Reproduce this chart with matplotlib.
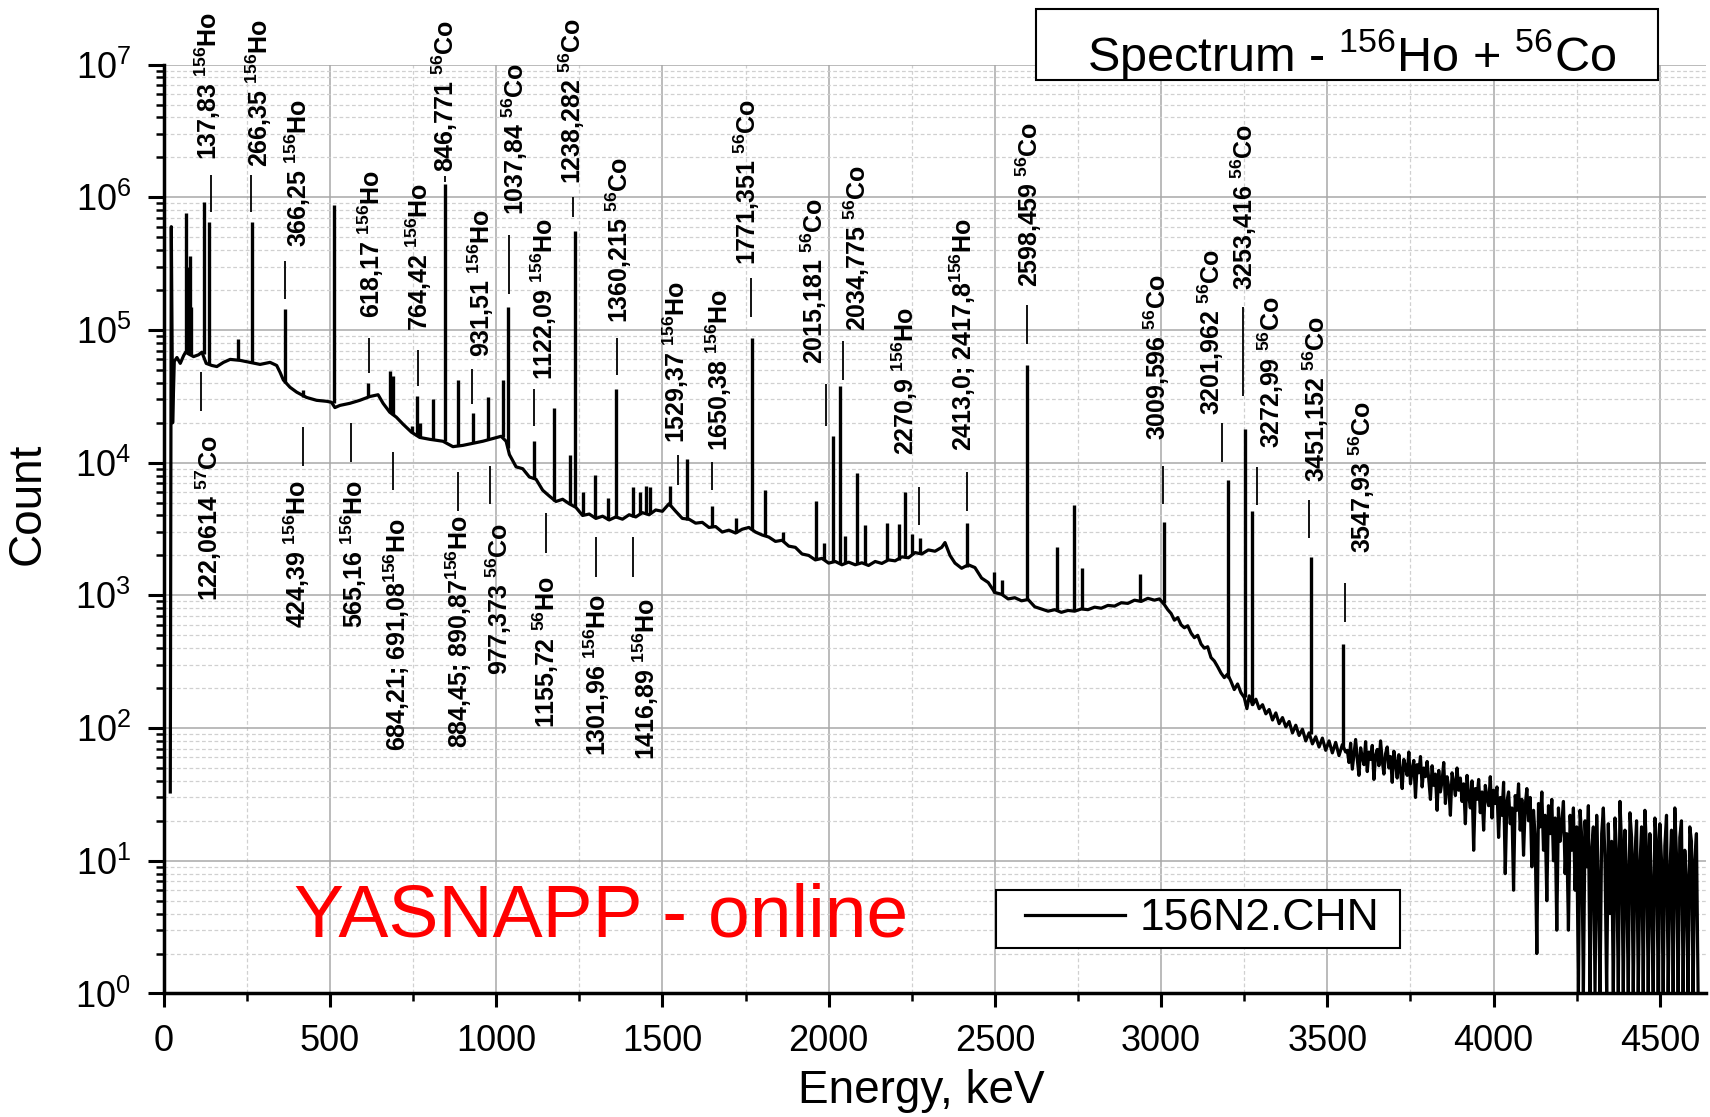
import numpy as np
import matplotlib.pyplot as plt
from matplotlib import ticker, transforms
from matplotlib.patches import Rectangle

plt.rcParams['font.family'] = ['Liberation Sans', 'DejaVu Sans']
plt.rcParams['mathtext.fontset'] = 'custom'
plt.rcParams['mathtext.rm'] = 'Liberation Sans'
plt.rcParams['mathtext.bf'] = 'Liberation Sans:bold'
plt.rcParams['mathtext.it'] = 'Liberation Sans:italic'

# continuum of the spectrum (keV, counts)
cont_e = [20, 23, 27, 32, 40, 50, 60, 66, 75, 90, 105, 115, 128, 145, 160, 180,
          200, 230, 260, 290, 320, 340, 350, 360, 380, 400, 430, 460, 490, 505,
          515, 530, 560, 590, 620, 645, 660, 680, 700, 720, 745, 770, 800, 840,
          870, 900, 930, 960, 990, 1015, 1030,
          1040, 1060, 1080, 1100, 1120, 1140, 1160, 1180, 1200, 1220, 1240, 1260,
          1280, 1300, 1320, 1340, 1360, 1380, 1400, 1420, 1440, 1460, 1480, 1500,
          1520, 1540, 1560, 1580, 1600, 1620, 1640, 1660, 1680, 1700, 1720, 1740,
          1760, 1780, 1800, 1820, 1840, 1860, 1880, 1900, 1920, 1940, 1960, 1980,
          2000, 2020, 2040, 2060, 2080, 2100, 2120, 2140, 2160, 2180, 2200, 2220,
          2240, 2260, 2280, 2300, 2320, 2340, 2350, 2365, 2380, 2400, 2420, 2440,
          2460, 2480, 2500, 2520, 2540, 2560, 2580, 2600, 2620, 2640, 2660, 2680,
          2700, 2720, 2740, 2760, 2780, 2800, 2820, 2840, 2860, 2880, 2900, 2920,
          2940, 2960, 2980, 2995,
          3010, 3020, 3030, 3040, 3050, 3060, 3070, 3080, 3090, 3100,
          3110, 3120, 3130, 3140, 3150, 3160, 3170, 3180, 3190, 3200, 3210, 3220,
          3230, 3240, 3250, 3258, 3265, 3275, 3285, 3295, 3305, 3315, 3325, 3335,
          3345, 3355, 3365, 3375, 3385, 3395, 3405, 3415, 3425, 3435, 3445, 3455,
          3465, 3475, 3485, 3495, 3505, 3515, 3525, 3535, 3545, 3555]
cont_c = [33, 6.0e5, 2.0e4, 5.8e4, 6.2e4, 5.6e4, 6.4e4, 6.8e4, 6.6e4, 6.3e4, 6.5e4,
          6.8e4, 5.6e4, 5.4e4, 5.3e4, 5.7e4, 6.0e4, 5.9e4, 5.7e4, 5.5e4, 5.7e4,
          5.4e4, 4.8e4, 4.2e4, 3.7e4, 3.4e4, 3.1e4, 2.95e4, 2.9e4, 2.85e4, 2.6e4,
          2.7e4, 2.8e4, 2.95e4, 3.15e4, 3.25e4, 2.8e4, 2.4e4, 2.2e4, 1.95e4, 1.7e4,
          1.55e4, 1.5e4, 1.45e4, 1.32e4, 1.35e4, 1.4e4, 1.45e4, 1.52e4, 1.58e4,
          1.45e4,
          1.15e4, 9.3e3, 9.0e3, 7.8e3, 7.5e3, 6.2e3, 5.6e3, 5.1e3, 5.3e3, 4.9e3,
          4.6e3, 4.0e3, 4.1e3, 3.8e3, 3.95e3, 3.7e3, 3.9e3, 3.75e3, 4.05e3, 3.9e3,
          4.2e3, 4.05e3, 4.4e3, 4.3e3, 4.9e3, 4.3e3, 3.8e3, 3.75e3, 3.5e3, 3.55e3,
          3.25e3, 3.3e3, 3.0e3, 3.1e3, 2.95e3, 3.15e3, 3.25e3, 3.0e3, 2.85e3,
          2.75e3, 2.55e3, 2.6e3, 2.35e3, 2.3e3, 2.05e3, 2.0e3, 1.85e3, 1.9e3,
          1.75e3, 1.8e3, 1.7e3, 1.78e3, 1.7e3, 1.76e3, 1.68e3, 1.8e3, 1.74e3,
          1.85e3, 1.82e3, 1.95e3, 1.92e3, 2.1e3, 2.05e3, 2.2e3, 2.15e3, 2.3e3,
          2.5e3, 2.0e3, 1.75e3, 1.6e3, 1.7e3, 1.62e3, 1.35e3, 1.25e3, 1.05e3,
          1.02e3, 940, 960, 910, 930, 820, 790, 760, 780, 745, 770, 760, 790, 780,
          815, 800, 840, 830, 880, 870, 920, 900, 950, 920, 940,
          850, 780, 730, 650, 680, 600,
          570, 590, 520, 480, 500, 430, 400, 410, 340, 320, 290, 260, 240, 255, 225,
          195, 215, 185, 170, 140, 175, 150, 165, 140, 150, 128, 138, 115, 130, 108,
          120, 102, 112, 92, 105, 88, 98, 80, 92, 76, 86, 72, 84, 68, 80, 65, 78, 62,
          75, 66]

# noisy high-energy tail, one value every 5 keV from 3560 keV
tail_start = 3560
tail_step = 5
tail_c = [68, 55, 77, 49, 63, 82, 58, 44, 71, 60, 53, 79, 47, 66, 58, 74, 41, 62,
          69, 52, 80, 57, 45, 64, 72, 50, 61, 39, 67,
          55, 42, 63, 48, 35, 58, 51, 44, 66, 38, 49, 57, 30, 53, 46, 61, 36, 50,
          43, 56,
          41, 29, 52, 37, 45, 24, 48, 33, 40, 55, 27, 43, 36, 22, 46, 39, 31, 50,
          34, 42,
          28, 38, 19, 44, 31, 25, 40, 12, 35, 29, 41, 23, 33, 17, 37, 30, 26, 43,
          21, 34,
          27, 36, 15, 30, 22, 39, 8, 28, 33, 19, 25, 6, 31, 24, 38, 17, 29, 11, 26,
          35,
          20, 30, 9, 24, 15, 2, 27, 18, 33, 12, 22, 5, 26, 16, 29, 10, 21, 3, 25, 14,
          19, 28, 8, 16, 3, 22, 12, 25, 6, 18, 1, 24,
          15, 1, 20, 9, 26, 1, 12, 18, 1, 22, 7, 1, 16, 25, 10, 1, 19, 4, 14, 1,
          21, 11, 1, 28, 13, 1, 17, 8, 1, 23, 15, 1, 11, 20, 1, 9, 18, 1, 24, 12,
          1, 16, 6, 1, 21, 14, 1, 19, 10, 1, 13, 22, 1, 8, 17, 1, 25, 11, 1, 15,
          20, 1, 12, 7, 1, 18, 14, 1, 10, 16, 1]

# photopeaks: energy, top and continuum level under the peak
peak_e = [67, 72, 78, 81, 120, 137, 225, 266, 366, 420, 511, 616, 682, 690, 746,
          762, 772, 810, 846, 884, 930, 975, 1020, 1037, 1115, 1175, 1222, 1238,
          1262, 1297, 1337, 1360, 1412, 1432, 1452, 1462, 1523, 1573, 1648, 1722,
          1771, 1810, 1862, 1963, 1985, 2013, 2034, 2049, 2085, 2110, 2177, 2212,
          2231, 2252, 2276, 2417, 2496, 2521, 2598, 2688, 2739, 2761, 2937, 3009,
          3202, 3253, 3272, 3451, 3548]
peak_top = [7.6e5, 3.0e5, 3.6e5, 1.5e5, 9.2e5, 6.5e5, 8.5e4, 6.5e5, 1.43e5, 3.5e4,
            8.8e5, 4.0e4, 4.9e4, 4.5e4, 1.9e4, 3.2e4, 2.0e4, 3.0e4, 1.26e6, 4.2e4,
            2.35e4, 3.1e4, 4.2e4, 1.5e5, 1.45e4, 2.6e4, 1.15e4, 5.6e5, 6.0e3, 8.1e3,
            5.4e3, 3.6e4, 6.5e3, 6.0e3, 6.7e3, 6.5e3, 6.7e3, 1.07e4, 4.7e3, 3.8e3,
            8.7e4, 6.2e3, 3.0e3, 5.1e3, 2.5e3, 1.6e4, 3.8e4, 2.8e3, 8.3e3, 3.4e3,
            3.5e3, 3.45e3, 6.0e3, 2.9e3, 2.7e3, 3.5e3, 1.5e3, 1.3e3, 5.4e4, 2.3e3,
            4.8e3, 1.6e3, 1.46e3, 3.6e3, 7.4e3, 1.8e4, 4.3e3, 1.95e3, 430]
peak_base = [6.8e4, 6.7e4, 6.6e4, 6.5e4, 6.6e4, 5.5e4, 5.9e4, 5.7e4, 4.0e4, 3.1e4,
             2.8e4, 3.1e4, 2.4e4, 2.3e4, 1.7e4, 1.6e4, 1.55e4, 1.5e4, 1.45e4, 1.35e4,
             1.4e4, 1.5e4, 1.55e4, 1.3e4, 7.5e3, 5.1e3, 4.9e3, 4.7e3, 4.0e3, 3.8e3,
             3.7e3, 3.85e3, 3.9e3, 4.1e3, 4.1e3, 4.2e3, 4.7e3, 3.7e3, 3.25e3, 2.95e3,
             3.1e3, 2.8e3, 2.55e3, 1.87e3, 1.85e3, 1.78e3, 1.72e3, 1.75e3, 1.72e3, 1.74e3,
             1.85e3, 1.85e3, 1.95e3, 2.05e3, 2.08e3, 1.65e3, 1.05e3, 1.0e3, 920, 770, 765,
             785, 900, 880, 240, 170, 150, 90, 70]

# line labels above the spectrum
up_vals = ['137,83', '266,35', '366,25', '618,17', '764,42', '846,771', '931,51',
           '1037,84', '1122,09', '1238,282', '1360,215', '1529,37', '1650,38',
           '1771,351', '2015,181', '2034,775', '2270,9', '2413,0; 2417,8',
           '2598,459', '3009,596', '3201,962', '3253,416', '3272,99', '3451,152',
           '3547,93']
up_mass = ['156', '156', '156', '156', '156', '56', '156', '56', '156', '56', '56',
           '156', '156', '56', '56', '56', '156', '156', '56', '56', '56', '56', '56',
           '56', '56']
up_elem = ['Ho', 'Ho', 'Ho', 'Ho', 'Ho', 'Co', 'Ho', 'Co', 'Ho', 'Co', 'Co', 'Ho',
           'Ho', 'Co', 'Co', 'Co', 'Ho', 'Ho', 'Co', 'Co', 'Co', 'Co', 'Co', 'Co', 'Co']
up_line_e = [143, 263, 365, 617, 764, 846, 926, 1039, 1115, 1231, 1363, 1546, 1648,
             1766, 1993, 2044, 2273, 2415, 2596, 3006, 3183, 3247, 3287, 3444, 3552]
up_lo = [7.8e5, 7.8e5, 1.7e5, 4.7e4, 3.8e4, 1.3e6, 2.75e4, 1.86e5, 1.9e4, 7.1e5,
         4.6e4, 6.8e3, 6.2e3, 1.26e5, 1.9e4, 4.2e4, 3.4e3, 4.3e3, 7.9e4, 4.9e3,
         1.02e4, 3.2e4, 4.8e3, 2.7e3, 630]
up_hi = [1.48e6, 1.48e6, 3.3e5, 8.7e4, 7.1e4, 1.45e6, 5.1e4, 5.2e5, 3.6e4, 1.0e6,
         8.7e4, 1.15e4, 1.02e4, 2.45e5, 3.9e4, 8.3e4, 6.6e3, 8.5e3, 1.55e5, 9.5e3,
         2.0e4, 1.5e5, 9.3e3, 5.2e3, 1.23e3]
up_text_e = [134, 286, 404, 623, 768, 847, 955, 1058, 1144, 1229, 1370, 1540, 1670,
             1755, 1956, 2086, 2230, 2405, 2603, 2989, 3149, 3249, 3330, 3465, 3605]
up_text_c = [1.9e6, 1.7e6, 4.2e5, 1.23e5, 9.8e4, 1.55e6, 6.3e4, 7.4e5, 4.2e4, 1.26e6,
             1.12e5, 1.4e4, 1.23e4, 3.1e5, 5.5e4, 9.8e4, 1.15e4, 1.23e4, 2.1e5,
             1.48e4, 2.3e4, 2.0e5, 1.29e4, 7.2e3, 2.1e3]

# line labels below the spectrum
down_vals = ['122,0614', '424,39', '565,16', '684,21; 691,08', '884,45; 890,87',
             '977,373', '1155,72', '1301,96', '1416,89']
down_mass = ['57', '156', '156', '156', '156', '56', '56', '156', '156']
down_elem = ['Co', 'Ho', 'Ho', 'Ho', 'Ho', 'Co', 'Ho', 'Ho', 'Ho']
down_line_e = [113, 420, 564, 690, 884, 982, 1150, 1300, 1413]
down_lo = [2.45e4, 9.5e3, 1.02e4, 6.2e3, 4.3e3, 4.9e3, 2.1e3, 1.38e3, 1.38e3]
down_hi = [4.8e4, 1.86e4, 2.0e4, 1.2e4, 8.5e3, 9.5e3, 4.2e3, 2.75e3, 2.75e3]
down_text_e = [136, 402, 573, 701, 888, 1009, 1149, 1304, 1450]
down_text_c = [1.62e4, 7.4e3, 7.4e3, 3.8e3, 4.0e3, 3.5e3, 1.4e3, 1.02e3, 955]

y_decades = [1, 10, 100, 1e3, 1e4, 1e5, 1e6, 1e7]


def label_str(val, mass, elem):
    sep = '' if ';' in val else ' '
    return val + sep + r'$^{\mathbf{' + mass + '}}$' + elem


fig = plt.figure(figsize=(17.1, 11.17), dpi=100)
ax = fig.add_axes([0.0957, 0.1106, 0.9022, 0.8316])

tail_e = [tail_start + tail_step * i for i in range(len(tail_c))]
spec_e = cont_e + tail_e
spec_c = cont_c + tail_c

ax.plot(spec_e, spec_c, color='k', lw=2.3, label='156N2.CHN', zorder=3)
ax.vlines(peak_e, peak_base, peak_top, color='k', lw=2.4, zorder=3)

ax.set_yscale('log')
ax.set_xlim(0, 4640)
ax.set_ylim(1, 1e7)

ax.xaxis.set_major_locator(ticker.MultipleLocator(500))
ax.xaxis.set_minor_locator(ticker.MultipleLocator(250))
ax.yaxis.set_major_locator(ticker.FixedLocator(y_decades))
ax.yaxis.set_major_formatter(ticker.LogFormatterSciNotation())
ax.yaxis.set_minor_locator(ticker.LogLocator(base=10, subs=np.arange(2, 10), numticks=100))
ax.yaxis.set_minor_formatter(ticker.NullFormatter())

ax.set_axisbelow(True)
ax.grid(which='major', color='#a8a8a8', lw=1.1, ls='-')
ax.grid(which='minor', color='#d0d0d0', lw=0.9, ls=(0, (3, 2)))

for side in ['top', 'right']:
    ax.spines[side].set_visible(False)
for side in ['left', 'bottom']:
    ax.spines[side].set_linewidth(2.5)

ax.tick_params(axis='both', which='major', direction='out', width=2.2, labelsize=26)
ax.tick_params(axis='both', which='minor', direction='out', width=1.8)
ax.tick_params(axis='y', which='major', length=11.5, pad=12)
ax.tick_params(axis='y', which='minor', length=6)
ax.tick_params(axis='x', which='major', length=10, pad=12)
ax.tick_params(axis='x', which='minor', length=6)

ax.set_xlabel('Energy, keV', fontsize=33)
ax.xaxis.set_label_coords(0.491, -0.081)
ax.set_ylabel('Count', fontsize=33)
ax.yaxis.set_label_coords(-0.0736, 0.527)

# label markers and texts
ax.vlines(up_line_e, up_lo, up_hi, color='k', lw=1.3, zorder=4)
ax.vlines(down_line_e, down_lo, down_hi, color='k', lw=1.3, zorder=4)
shift = transforms.offset_copy(ax.transData, fig=fig, x=6.4, y=0, units='points')
for v, m, el, x, y in zip(up_vals, up_mass, up_elem, up_text_e, up_text_c):
    ax.text(x, y, label_str(v, m, el), transform=shift, rotation=90,
            rotation_mode='anchor', ha='left', va='baseline', fontsize=18,
            fontweight='bold', zorder=5)
for v, m, el, x, y in zip(down_vals, down_mass, down_elem, down_text_e, down_text_c):
    ax.text(x, y, label_str(v, m, el), transform=shift, rotation=90,
            rotation_mode='anchor', ha='right', va='baseline', fontsize=18,
            fontweight='bold', zorder=5)

# legend with a hand-sized frame like the reference
leg_box = Rectangle((0.5825, 0.1513), 0.2363, 0.0519, transform=fig.transFigure,
                    facecolor='white', edgecolor='black', lw=1.5, zorder=8)
fig.add_artist(leg_box)
leg = ax.legend(loc='center left', bbox_to_anchor=(0.5994, 0.1773),
                bbox_transform=fig.transFigure, fontsize=32, frameon=False,
                handlelength=2.25, handletextpad=0.32, borderpad=0,
                borderaxespad=0)
leg.set_zorder(9)
leg.remove()
fig.add_artist(leg)

fig.text(0.172, 0.162, 'YASNAPP - online', color='red', fontsize=54, va='baseline')

box = Rectangle((0.606, 0.9284), 0.3636, 0.0635, transform=fig.transFigure,
                facecolor='white', edgecolor='black', lw=1.5, zorder=10)
fig.add_artist(box)
fig.text(0.6357, 0.9364, r'Spectrum - $^{156}$Ho + $^{56}$Co', fontsize=35,
         va='baseline', zorder=11)

fig.savefig('out.png', dpi=100)
